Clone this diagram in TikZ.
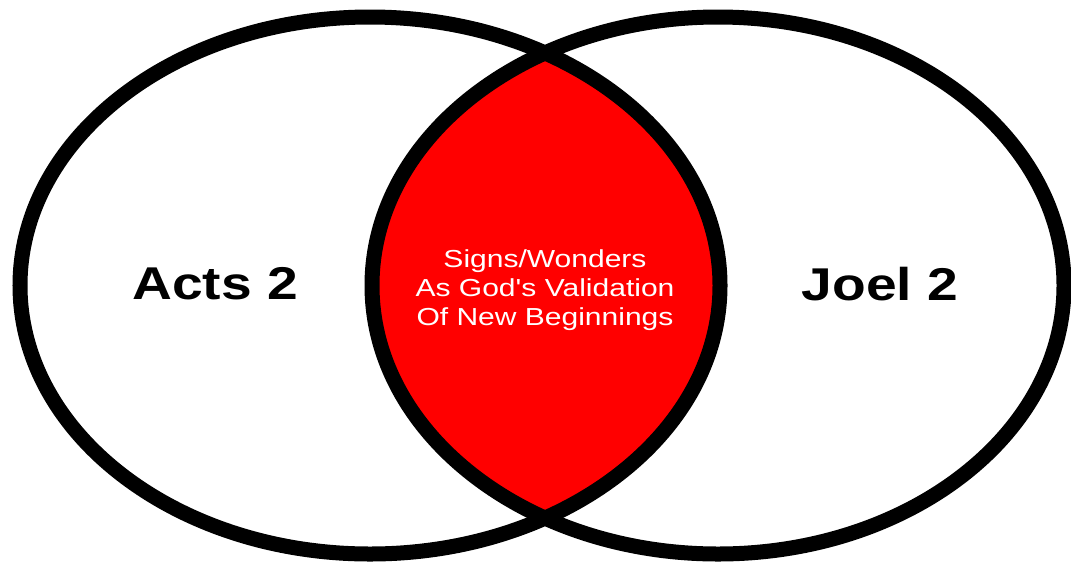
\documentclass[tikz,border=0pt]{standalone}
\usepackage{fontspec}
\setmainfont{Liberation Sans}
\usetikzlibrary{positioning}

\begin{document}
\begin{tikzpicture}[x=0.025cm, y=-0.025cm,
        ring/.style={draw=black, line width=0.375cm},
        book/.style={font=\fontsize{32.7}{36}\selectfont\bfseries, xscale=1.2, transform shape},
        theme/.style={text=white, align=center, font=\fontsize{17.5}{20.5}\selectfont, xscale=1.22, transform shape}]
        \useasboundingbox (0,0) rectangle (1071,561);
        \fill[white] (0,0) rectangle (1071,561);

        % overlap of the two circles
        \begin{scope}
            \clip (370,285.5) ellipse [x radius=350, y radius=268.5];
            \fill[red] (718,285.5) ellipse [x radius=346, y radius=268.5];
        \end{scope}

        \draw[ring] (370,285.5) ellipse [x radius=350, y radius=268.5];
        \draw[ring] (718,285.5) ellipse [x radius=346, y radius=268.5];

        \node[book] (acts) at (215,284) {Acts 2};
        \node[book] (joel) at (880,284) {Joel 2};
        \node[theme] (mid) at (545,290) {Signs/Wonders \\ As God\textquotesingle s Validation \\ Of New Beginnings};
    \end{tikzpicture}
\end{document}
